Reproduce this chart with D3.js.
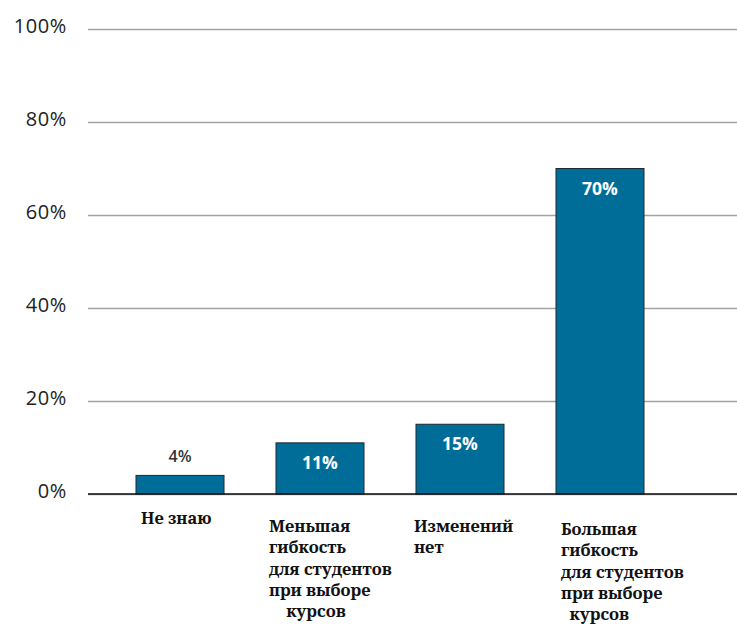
<!DOCTYPE html>
<html>
<head>
<meta charset="utf-8">
<script src="https://cdn.jsdelivr.net/npm/d3@7"></script>
<style>
  body { margin: 0; background: #fff; }
</style>
</head>
<body>
<script>
// data
const categories = ["Не знаю", "Меньшая гибкость", "Изменений нет", "Большая гибкость"];
const labelLines = [
    ["Не знаю"],
    ["Меньшая", "гибкость", "для студентов", "при выборе", "    курсов"],
    ["Изменений", "нет"],
    ["Большая", "гибкость", "для студентов", "при выборе", "  курсов"]
];
const values = [4, 11, 15, 70];
const ticks = [0, 20, 40, 60, 80, 100];

const w = 737;
const h = 625;

const svg = d3.select("body")
    .append("svg")
    .attr("width", w)
    .attr("height", h);

// scales
const xScale = d3.scaleBand()
    .domain(categories)
    .range([110, 670])
    .paddingInner(0.3714)
    .paddingOuter(0.1857);

const yScale = d3.scaleLinear()
    .domain([0, 100])
    .range([494, 29]);

// gridlines + tick labels
const yAxis = svg.append("g")
    .attr("transform", "translate(88,0)")
    .call(d3.axisRight(yScale)
        .tickValues(ticks)
        .tickSize(w - 88)
        .tickFormat(d => d + "%"));

yAxis.select(".domain").remove();
yAxis.selectAll(".tick line")
    .attr("stroke", "#a3a3a3")
    .attr("stroke-width", 1.5);
yAxis.selectAll(".tick text")
    .attr("x", -21)
    .attr("dy", "0.15em")
    .attr("text-anchor", "end")
    .attr("fill", "#222")
    .style("font-family", "'Open Sans', sans-serif")
    .style("font-size", "20px")
    .style("letter-spacing", "0.6px");

// bars
svg.selectAll("rect.bar")
    .data(values)
    .enter()
    .append("rect")
    .attr("class", "bar")
    .attr("x", (d, i) => xScale(categories[i]))
    .attr("y", d => yScale(d))
    .attr("width", xScale.bandwidth())
    .attr("height", d => yScale(0) - yScale(d))
    .attr("fill", "#006c98")
    .attr("stroke", "#1d2a30")
    .attr("stroke-width", 1);

// zero line
svg.append("line")
    .attr("x1", 88)
    .attr("x2", w)
    .attr("y1", yScale(0))
    .attr("y2", yScale(0))
    .attr("stroke", "#111")
    .attr("stroke-width", 1.5);

// value labels (small bar gets its label above)
svg.selectAll("text.val")
    .data(values)
    .enter()
    .append("text")
    .attr("class", "val")
    .attr("x", (d, i) => xScale(categories[i]) + xScale.bandwidth() / 2)
    .attr("y", d => d < 8 ? yScale(d) - 13 : yScale(d) + 26)
    .attr("text-anchor", "middle")
    .attr("fill", d => d < 8 ? "#333" : "#fff")
    .style("font-family", "'Open Sans', sans-serif")
    .style("font-weight", d => d < 8 ? "600" : "700")
    .style("font-size", d => d < 8 ? "16px" : "17.5px")
    .text(d => d + "%");

// category labels
const catOffsets = [5, -7, -2, 5];
const catTop = [524, 532, 532, 535];

labelLines.forEach(function (lines, i) {
    const t = svg.append("text")
        .attr("x", xScale(categories[i]) + catOffsets[i])
        .attr("y", catTop[i])
        .attr("fill", "#111")
        .style("font-family", "'Noto Serif', 'Liberation Serif', serif")
        .style("font-weight", "bold")
        .style("font-size", "16.5px")
        .style("white-space", "pre");
    lines.forEach(function (line, j) {
        t.append("tspan")
            .attr("x", xScale(categories[i]) + catOffsets[i])
            .attr("dy", j === 0 ? 0 : 21.3)
            .text(line);
    });
});
</script>
</body>
</html>
